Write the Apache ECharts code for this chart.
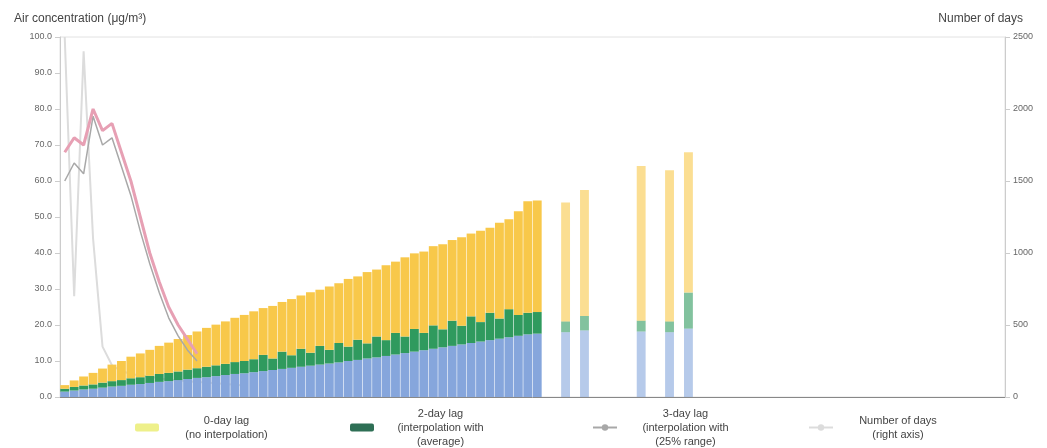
<!DOCTYPE html>
<html><head><meta charset="utf-8">
<script src="https://cdn.jsdelivr.net/npm/echarts@6/dist/echarts.min.js"></script>
<style>html,body{margin:0;padding:0;background:#fff}#c{width:1047px;height:448px}</style>
</head><body><div id="c"></div>
<script>
// categories: lag/day index
const categories = [];
for (let i = 0; i < 100; i++) categories.push(String(i));

const leftTicks = [0,10,20,30,40,50,60,70,80,90,100];
const rightTicks = [0,500,1000,1500,2000,2500];

// bottom layer (blue)
const blueLayer = [
 1.5,1.8,2.1,2.3,2.6,2.9,3.1,3.4,3.6,3.9,
 4.2,4.4,4.7,5.0,5.3,5.5,5.8,6.1,6.4,6.6,
 6.9,7.2,7.5,7.8,8.1,8.4,8.7,9.0,9.3,9.6,
 10.0,10.3,10.7,11.0,11.4,11.8,12.2,12.6,13.0,13.4,
 13.8,14.2,14.6,15.0,15.4,15.8,16.2,16.6,17.0,17.4,
 17.6,null,null,18.0,null,18.5,null,null,null,null,
 null,18.2,null,null,18.0,null,19.0
];
// middle layer (green)
const greenLayer = [
 0.8,1.0,1.1,1.2,1.4,1.5,1.6,1.8,1.9,2.0,
 2.2,2.3,2.4,2.6,2.7,2.9,3.0,3.1,3.3,3.4,
 3.6,4.5,3.2,4.8,3.5,5.0,3.6,5.2,3.8,5.4,
 4.0,5.6,4.2,5.8,4.4,6.0,4.6,6.3,4.8,6.5,
 5.0,7.0,5.2,7.4,5.4,7.6,5.6,7.8,5.8,6.0,
 6.0,null,null,3.0,null,4.0,null,null,null,null,
 null,3.0,null,null,3.0,null,10.0
];
// top layer (yellow)
const yellowLayer = [
 1.0,1.8,2.5,3.2,3.9,4.6,5.3,6.0,6.6,7.2,
 7.8,8.4,9.0,9.6,10.2,10.8,11.3,11.8,12.3,12.8,
 13.3,13.0,14.6,13.8,15.6,14.8,16.8,15.6,17.6,16.6,
 18.8,17.6,19.8,18.6,20.8,19.8,22.0,21.0,22.6,22.0,
 23.6,22.4,24.6,23.0,25.4,23.6,26.6,25.0,28.8,31.0,
 31.0,null,null,33.0,null,35.0,null,null,null,null,
 null,43.0,null,null,42.0,null,39.0
];
// concentration line (pink)
const pinkLine = [68,72,70,80,74,76,68,60,50,40,32,25,20,16,12];
// 25% range line (gray)
const grayLine = [60,65,62,78,70,72,64,56,46,37,29,22,17,13,10];
// number of days (right axis)
const daysLine = [2500,700,2400,1100,350,220,180,160,150,140,130,120,115,110,105,100,95,90,85,80];

const legendLines = [
 ['0-day lag', '(no interpolation)'],
 ['2-day lag', '(interpolation with', '(average)'],
 ['3-day lag', '(interpolation with', '(25% range)'],
 ['Number of days', '(right axis)']
];
const legendNames = legendLines.map(l => l.join('\n'));

const sparseFrom = 51;
function styled(arr) {
  return arr.map((v, i) => (v == null ? null : (i >= sparseFrom ? {value: v, itemStyle: {opacity: 0.6}} : v)));
}

const chart = echarts.init(document.getElementById('c'));
const font = 'Liberation Sans, Arial, sans-serif';
const legendX = [130, 345, 587, 803];
const legendTop = [410, 403, 403, 410];
const legendW = [125, 123, 127, 120];
const legendIcons = [
  {icon: 'roundRect', itemStyle: {color: '#eef08a'}},
  {icon: 'roundRect', itemStyle: {color: '#2e6f55'}},
  {},
  {}
];
const legends = legendNames.map((n, k) => ({
  left: legendX[k], top: legendTop[k], itemWidth: 24, itemGap: 10, itemHeight: 8,
  data: [Object.assign({name: n}, legendIcons[k])],
  formatter: () => legendLines[k].map(s => '{a|' + s + '}').join('\n'),
  textStyle: {rich: {a: {fontSize: 11, color: '#444', lineHeight: 14, width: legendW[k], align: 'center', fontFamily: font}}}
}));

chart.setOption({
  animation: false,
  textStyle: {fontFamily: font},
  grid: {left: 60, right: 42, top: 37, bottom: 51, show: true, borderColor: '#e2e2e2', borderWidth: 1},
  legend: legends,
  xAxis: {
    type: 'category', data: categories, boundaryGap: true,
    axisLine: {lineStyle: {color: '#888'}}, axisTick: {show: false}, axisLabel: {show: false}
  },
  yAxis: [
    {type: 'value', min: leftTicks[0], max: leftTicks[leftTicks.length-1], interval: 10,
     name: 'Air concentration (μg/m³)', nameLocation: 'end', nameGap: 12,
     nameTextStyle: {fontSize: 12, color: '#444', align: 'left', padding: [0,0,0,-46]},
     axisLine: {show: true, lineStyle: {color: '#ccc'}}, axisTick: {show: true, lineStyle: {color: '#ccc'}},
     axisLabel: {fontSize: 9, color: '#666', formatter: v => v.toFixed(1)}, splitLine: {show: false}},
    {type: 'value', min: rightTicks[0], max: rightTicks[rightTicks.length-1], interval: 500,
     name: 'Number of days', nameLocation: 'end', nameGap: 12,
     nameTextStyle: {fontSize: 12, color: '#444', align: 'right', padding: [0,-18,0,0]},
     axisLine: {show: true, lineStyle: {color: '#ccc'}}, axisTick: {show: true, lineStyle: {color: '#ccc'}},
     axisLabel: {fontSize: 9, color: '#666', formatter: v => String(v)}, splitLine: {show: false}}
  ],
  series: [
    {name: 'blue', type: 'bar', stack: 's', data: styled(blueLayer), barCategoryGap: '6%',
     itemStyle: {color: '#86a6dc'}},
    {name: legendNames[1], type: 'bar', stack: 's', data: styled(greenLayer),
     itemStyle: {color: '#2f9a5e'}},
    {name: legendNames[0], type: 'bar', stack: 's', data: styled(yellowLayer),
     itemStyle: {color: '#f8c84a'}},
    {name: legendNames[3], type: 'line', yAxisIndex: 1, data: daysLine, symbol: 'none',
     lineStyle: {color: '#dcdcdc', width: 2}, itemStyle: {color: '#dcdcdc'}, z: 1},
    {name: legendNames[2], type: 'line', data: grayLine, symbol: 'none',
     lineStyle: {color: '#a8a8a8', width: 1.5}, itemStyle: {color: '#a8a8a8'}},
    {name: 'pink', type: 'line', data: pinkLine, symbol: 'none',
     lineStyle: {color: '#e7a0b4', width: 3}}
  ]
});
</script></body></html>
